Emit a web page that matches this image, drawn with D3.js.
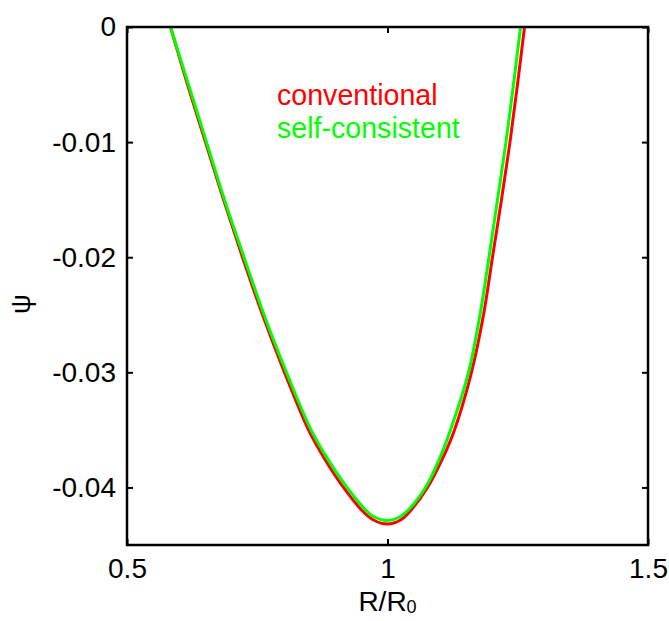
<!DOCTYPE html>
<html><head><meta charset="utf-8">
<script src="https://cdn.jsdelivr.net/npm/d3@7"></script>
<style>body{margin:0;background:#fff}svg{display:block}text{font-family:"Liberation Sans",Arial,Helvetica,sans-serif}</style>
</head><body>
<script>
// Data
const conventionalR   = [0.5835,0.6161,0.6507,0.6852,0.7217,0.7601,0.8023,0.8484,0.8791,0.9155,0.9510,0.9731,1.0,1.0250,1.0445,1.0768,1.1056,1.1286,1.1612,1.1843,1.2015,1.2188,1.2351,1.2495,1.2630];
const conventionalPsi = [0,-0.005,-0.01,-0.015,-0.02,-0.025,-0.03,-0.035,-0.0375,-0.04,-0.042,-0.04283,-0.04318,-0.04283,-0.042,-0.04,-0.0375,-0.035,-0.03,-0.025,-0.02,-0.015,-0.01,-0.005,0];
const selfR   = [0.5835,0.6180,0.6526,0.6871,0.7246,0.7630,0.8061,0.8532,0.8848,0.9223,0.9590,0.9750,1.0,1.0230,1.0390,1.0729,1.0998,1.1209,1.1555,1.1775,1.1948,1.2111,1.2274,1.2418,1.2553];
const selfPsi = [0,-0.005,-0.01,-0.015,-0.02,-0.025,-0.03,-0.035,-0.0375,-0.04,-0.042,-0.04257,-0.04287,-0.04257,-0.042,-0.04,-0.0375,-0.035,-0.03,-0.025,-0.02,-0.015,-0.01,-0.005,0];
const xTicks = [0.5,1,1.5];
const yTicks = [0,-0.01,-0.02,-0.03,-0.04];
const seriesNames = ["conventional","self-consistent"];
const seriesColors = ["#ff0000","#00ff00"];

const W=669,H=621;
const m={left:127,top:27,right:21,bottom:76};
const svg=d3.select("body").append("svg").attr("width",W).attr("height",H);
const x=d3.scaleLinear().domain([0.5,1.5]).range([m.left,W-m.right]);
const y=d3.scaleLinear().domain([-0.045,0]).range([H-m.bottom,m.top]);

const series=[
  conventionalR.map((r,i)=>[r,conventionalPsi[i]]),
  selfR.map((r,i)=>[r,selfPsi[i]])
];
const line=d3.line().x(d=>x(d[0])).y(d=>y(d[1])).curve(d3.curveCatmullRom.alpha(0.5));
svg.append("clipPath").attr("id","c").append("rect")
  .attr("x",m.left).attr("y",m.top).attr("width",W-m.right-m.left).attr("height",H-m.bottom-m.top);
series.forEach((s,i)=>{
  svg.append("path").datum(s).attr("d",line).attr("fill","none")
    .attr("stroke",seriesColors[i]).attr("stroke-width",3).attr("clip-path","url(#c)");
});

const fs=28, tl=6;
const fmtY=d=>d===0?"0":("-"+d3.format(".2f")(Math.abs(d)));
const axB=d3.axisBottom(x).tickValues(xTicks).tickSize(-tl).tickPadding(13).tickFormat(d3.format("~g"));
const axT=d3.axisTop(x).tickValues(xTicks).tickSize(-tl).tickFormat("");
const axL=d3.axisLeft(y).tickValues(yTicks).tickSize(-tl).tickPadding(11).tickFormat(fmtY);
const axR=d3.axisRight(y).tickValues(yTicks).tickSize(-tl).tickFormat("");
function style(g){g.select(".domain").remove();g.selectAll(".tick line").attr("stroke","#000").attr("stroke-width",2);
  g.selectAll("text").attr("font-size",fs).attr("fill","#000").style("font-family","'Liberation Sans',Arial,sans-serif");}
svg.append("g").attr("transform",`translate(0,${H-m.bottom})`).call(axB).call(style);
svg.append("g").attr("transform",`translate(0,${m.top})`).call(axT).call(style);
svg.append("g").attr("transform",`translate(${m.left},0)`).call(axL).call(style);
svg.append("g").attr("transform",`translate(${W-m.right},0)`).call(axR).call(style);
svg.append("rect").attr("x",m.left).attr("y",m.top).attr("width",W-m.right-m.left).attr("height",H-m.bottom-m.top)
  .attr("fill","none").attr("stroke","#000").attr("stroke-width",2.5);

// labels
const xl=svg.append("text").attr("x",x(1)).attr("y",611).attr("text-anchor","middle").attr("font-size",fs);
xl.append("tspan").text("R/R");
xl.append("tspan").attr("font-size",18).attr("dy",2).text("0");
svg.append("text").attr("transform",`translate(30,304) rotate(-90)`).attr("text-anchor","middle")
  .attr("font-size",fs).text("ψ");

// legend
seriesNames.forEach((n,i)=>{
  svg.append("text").attr("x",277).attr("y",105+i*33).attr("font-size",28.6).attr("fill",seriesColors[i]).text(n);
});
</script>
</body></html>
